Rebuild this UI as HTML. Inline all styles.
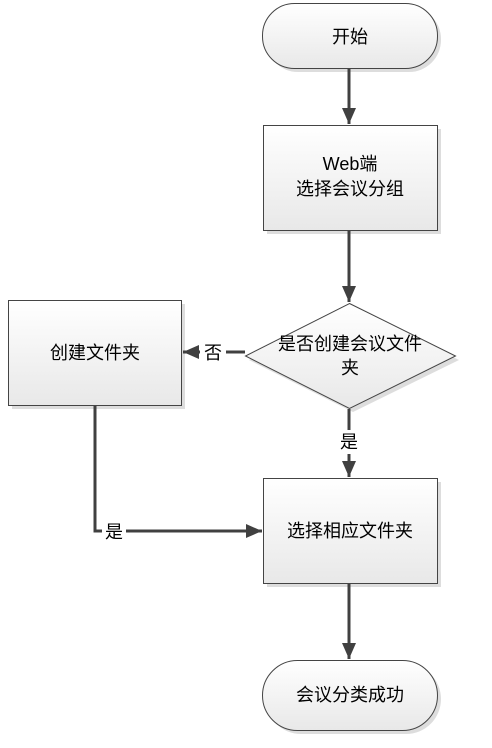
<!DOCTYPE html>
<html><head><meta charset="utf-8"><style>
body{margin:0;background:#fff;width:492px;height:748px;overflow:hidden}
svg{display:block}
text{font-family:"Liberation Sans","Noto Sans CJK SC",sans-serif;font-size:18px;fill:#000}
</style></head><body>
<svg width="492" height="748" viewBox="0 0 492 748">
<defs>
<linearGradient id="g" x1="0" y1="0" x2="0" y2="1"><stop offset="0" stop-color="#ffffff"/><stop offset="1" stop-color="#e8e8e8"/></linearGradient>
<marker id="b" markerWidth="16" markerHeight="16" refX="16" refY="8" orient="auto" markerUnits="userSpaceOnUse"><path d="M0,1 L16,8 L0,15 z" fill="#404040"/></marker>
</defs>
<g fill="#ddd">
<rect x="266" y="7" width="175" height="65" rx="32"/>
<rect x="267" y="129" width="174" height="105"/>
<polygon points="353,307 459,360 353,412 249,360"/>
<rect x="12" y="304" width="173" height="105"/>
<rect x="267" y="482" width="174" height="105"/>
<rect x="266" y="664" width="175" height="70" rx="35"/>
</g>
<g fill="url(#g)" stroke="#444" stroke-width="1">
<rect x="262.5" y="3.5" width="175" height="65" rx="32"/>
<rect x="263.5" y="125.5" width="174" height="105"/>
<polygon points="349.5,303.5 455.5,356 349.5,408.5 245.5,356"/>
<rect x="8.5" y="300.5" width="173" height="105"/>
<rect x="263.5" y="478.5" width="174" height="105"/>
<rect x="262.5" y="660.5" width="175" height="70" rx="35"/>
</g>
<g stroke="#404040" stroke-width="3" fill="none">
<line x1="349" y1="69" x2="349" y2="124" marker-end="url(#b)"/>
<line x1="349" y1="231" x2="349" y2="302" marker-end="url(#b)"/>
<line x1="349" y1="409" x2="349" y2="477" marker-end="url(#b)"/>
<line x1="349" y1="584" x2="349" y2="659" marker-end="url(#b)"/>
<line x1="245" y1="352" x2="183" y2="352" marker-end="url(#b)"/>
<polyline points="95,406 95,531 262,531" marker-end="url(#b)"/>
</g>
<rect x="200" y="340" width="26" height="24" fill="#fff"/>
<rect x="338" y="430" width="22" height="24" fill="#fff"/>
<rect x="102" y="519" width="24" height="24" fill="#fff"/>
<text x="350" y="43" text-anchor="middle">开始</text>
<text x="350" y="170" text-anchor="middle">Web端</text>
<text x="350" y="195" text-anchor="middle">选择会议分组</text>
<text x="350" y="350" text-anchor="middle">是否创建会议文件</text>
<text x="350" y="374" text-anchor="middle">夹</text>
<text x="213" y="359" text-anchor="middle">否</text>
<text x="349" y="448" text-anchor="middle">是</text>
<text x="114" y="538" text-anchor="middle">是</text>
<text x="95" y="359" text-anchor="middle">创建文件夹</text>
<text x="350" y="537" text-anchor="middle">选择相应文件夹</text>
<text x="350" y="701" text-anchor="middle">会议分类成功</text>
</svg>
</body></html>
